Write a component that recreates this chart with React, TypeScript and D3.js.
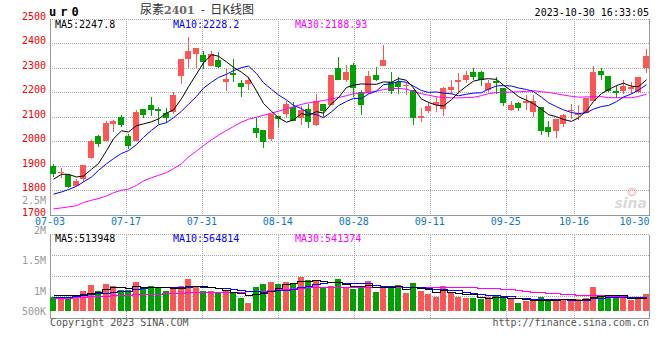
import React from "react";
import * as d3 from "d3";

// ---- data -------------------------------------------------------------
const dates = [
  "07-03","07-04","07-05","07-06","07-07","07-10","07-11","07-12","07-13","07-14",
  "07-17","07-18","07-19","07-20","07-21","07-24","07-25","07-26","07-27","07-28",
  "07-31","08-01","08-02","08-03","08-04","08-07","08-08","08-09","08-10","08-11",
  "08-14","08-15","08-16","08-17","08-18","08-21","08-22","08-23","08-24","08-25",
  "08-28","08-29","08-30","08-31","09-01","09-04","09-05","09-06","09-07","09-08",
  "09-11","09-12","09-13","09-14","09-15","09-18","09-19","09-20","09-21","09-22",
  "09-25","09-26","09-27","09-28","10-09","10-10","10-11","10-12","10-13","10-16",
  "10-17","10-18","10-19","10-20","10-23","10-24","10-25","10-26","10-27","10-30",
];
const opens = [
  1897,1868,1863,1816,1844,1932,2019,2000,2068,2099,
  2019,2000,2129,2145,2130,2114,2118,2264,2336,2355,
  2353,2305,2332,2240,2278,2236,2233,2053,2043,2007,
  2104,2111,2138,2095,2131,2064,2152,2145,2298,2247,
  2312,2199,2195,2271,2308,2240,2240,2228,2209,2094,
  2121,2145,2129,2209,2240,2249,2283,2283,2209,2243,
  2216,2125,2154,2154,2118,2138,2059,2040,2070,2121,
  2108,2115,2163,2287,2267,2203,2206,2213,2199,2298,
];
const highs = [
  1907,1890,1864,1846,1901,2003,2023,2081,2087,2108,
  2027,2125,2129,2178,2137,2135,2202,2336,2423,2381,
  2369,2366,2365,2294,2335,2251,2260,2094,2043,2111,
  2104,2165,2159,2141,2152,2190,2152,2271,2342,2312,
  2319,2209,2287,2304,2393,2283,2260,2240,2209,2135,
  2159,2179,2220,2247,2277,2287,2297,2287,2249,2260,
  2216,2165,2159,2186,2186,2138,2081,2091,2111,2152,
  2145,2176,2308,2298,2267,2226,2251,2240,2263,2376,
];
const lows = [
  1853,1849,1810,1815,1833,1926,1975,1999,2036,2057,
  1968,1999,2095,2104,2070,2074,2111,2233,2298,2298,
  2294,2305,2298,2206,2240,2179,2210,2012,1973,2002,
  2057,2095,2080,2064,2053,2063,2100,2145,2251,2240,
  2179,2108,2192,2244,2305,2192,2192,2186,2066,2076,
  2114,2118,2104,2192,2192,2236,2247,2224,2199,2192,
  2142,2121,2122,2125,2100,2023,2016,2012,2057,2091,
  2084,2114,2163,2251,2199,2175,2192,2192,2197,2277,
];
const closes = [
  1864,1872,1812,1836,1901,2002,1989,2072,2081,2064,
  1978,2118,2108,2125,2122,2095,2186,2336,2369,2381,
  2321,2355,2304,2253,2271,2220,2247,2032,1996,2111,
  2091,2152,2080,2125,2077,2165,2121,2271,2251,2283,
  2215,2145,2264,2251,2332,2206,2220,2230,2094,2104,
  2141,2161,2215,2222,2251,2271,2263,2251,2236,2236,
  2154,2145,2134,2163,2165,2040,2036,2091,2108,2125,
  2114,2176,2283,2270,2206,2195,2226,2220,2263,2346,
];
const volumes = [
  559000,559000,559000,624000,793000,1014000,780000,1053000,975000,819000,
  819000,1131000,936000,975000,910000,780000,884000,975000,1248000,923000,
  780000,780000,754000,793000,689000,520000,325000,936000,1053000,1131000,
  1053000,1131000,1105000,1339000,1209000,1209000,923000,975000,1248000,923000,
  858000,949000,1170000,741000,910000,975000,1014000,702000,1092000,780000,
  676000,546000,975000,715000,546000,507000,520000,455000,546000,624000,
  494000,494000,325000,390000,390000,546000,416000,468000,468000,390000,
  468000,520000,936000,559000,559000,494000,520000,429000,468000,676000,
];
// moving-average values for the first bars (window reaches before 07-03)
const ma5Lead = [1844, 1864, 1864, 1853];
const ma10Lead = [1783, 1792, 1802, 1815, 1833, 1853, 1880, 1907, 1928];
const ma30Lead = [
  1723,1727,1731,1736,1749,1758,1765,1776,1789,1799,
  1804,1819,1837,1850,1860,1871,1887,1907,1935,1959,
  1981,2005,2024,2043,2059,2077,2089,2097,2105,
];
const volMa5Lead = [624000, 624000, 624000, 611000];
const volMa10Lead = [559000, 559000, 559000, 585000, 650000, 663000, 689000, 715000, 728000];
const volMa30Lead = [
  494000,494000,520000,533000,559000,572000,585000,598000,611000,624000,
  637000,650000,650000,663000,676000,689000,702000,715000,728000,728000,
  728000,728000,728000,728000,741000,754000,767000,780000,793000,
];
const priceTicks = [1700, 1800, 1900, 2000, 2100, 2200, 2300, 2400, 2500];
const volTickLabels = ["2.5M", "2M", "1.5M", "1M", "500K"];
const volTickValues = [2500000, 2000000, 1500000, 1000000, 500000];
const dateTicks = ["07-03", "07-17", "07-31", "08-14", "08-28", "09-11", "09-25", "10-16", "10-30"];
const titleName = "尿素";
const titleCode = "2401";
const titleRest = "-  日K线图";
const symbol = "ur0";
const timestamp = "2023-10-30 16:33:05";
const priceHeader = ["MA5:2247.8", "MA10:2228.2", "MA30:2188.93"];
const volHeader = ["MA5:513948", "MA10:564814", "MA30:541374"];

// ---- helpers ----------------------------------------------------------
function movingAvg(vals: number[], n: number, lead: number[]) {
  return vals.map((_, i) => (i < n - 1 ? lead[i] : (d3.mean(vals.slice(i - n + 1, i + 1)) as number)));
}

const W = 660, H = 360;
const L = 50, R = 650;
const pTop = 18.5, pBot = 214.5;
const vTop = 234.5, vBot = 318.5, vBase = 311;

const RED = "#ff5555";
const GREEN = "#00a000";
const GRID = "#aaaaaa";
const BORDER = "#999999";
const MONO = "'DejaVu Sans Mono', monospace";
const CJK = "'Noto Sans CJK SC', sans-serif";

export default function App() {
  const n = dates.length;
  const band = d3.scaleBand<string>().domain(dates).range([L, R]).padding(0);
  const gridX = d3.scaleLinear().domain([0, n - 1]).range([L, R]);
  const yP = d3.scaleLinear().domain([1700, 2500]).range([pBot, pTop]);
  const yV = d3.scaleLinear().domain([0, 1000000]).range([vBase, vBase - 1000000 / 39000]);
  const yVLabel = d3.scaleLinear().domain([1000000, 2500000]).range([291, 200]);

  const bx = (i: number) => Math.round(band(dates[i]) as number);
  const cx = (i: number) => bx(i) + 3;

  const ma5 = movingAvg(closes, 5, ma5Lead);
  const ma10 = movingAvg(closes, 10, ma10Lead);
  const ma30 = movingAvg(closes, 30, ma30Lead);
  const vma5 = movingAvg(volumes, 5, volMa5Lead);
  const vma10 = movingAvg(volumes, 10, volMa10Lead);
  const vma30 = movingAvg(volumes, 30, volMa30Lead);

  const priceLine = d3.line<number>().x((_, i) => cx(i) + 0.5).y((v) => yP(v));
  const volLine = d3.line<number>().x((_, i) => cx(i) + 0.5).y((v) => Math.round(yV(v)) + 0.5).curve(d3.curveStep);

  const tickIdx = dateTicks.map((t) => dates.indexOf(t));
  const volGridYs = [1, 2, 3].map((k) => Math.round(vTop + 20.5 * k) + 0.5);

  return (
    <svg width={W} height={H} style={{ position: "absolute", left: 0, top: 0, background: "#fff" }}>
      <rect x={0} y={0} width={W} height={H} fill="#fff" />
      {/* header */}
      <text x={49} y={15.7} fontFamily={MONO} fontWeight="bold" fontSize={12} letterSpacing={4} fill="#000">{symbol}</text>
      <text x={140} y={14} fontSize={12} fill="#333" style={{ whiteSpace: "pre" }}>
        <tspan fontFamily={CJK}>{titleName}</tspan>
        <tspan fontFamily="'DejaVu Serif', serif" fontWeight="bold" fontSize={11} fill="#666">{titleCode}</tspan>
        <tspan fontFamily={CJK} dx={6}>{titleRest}</tspan>
      </text>
      <text x={649} y={15.6} fontFamily={MONO} fontSize={10} textAnchor="end" fill="#000">{timestamp}</text>

      {/* price grid */}
      <g shapeRendering="crispEdges">
        {priceTicks.map((p) => (
          <line key={p} x1={L} x2={R} y1={Math.round(yP(p)) + 0.5} y2={Math.round(yP(p)) + 0.5}
            stroke={p === 1700 ? BORDER : GRID} strokeDasharray={p === 1700 ? undefined : "1 1"} />
        ))}
        {tickIdx.slice(1, -1).map((i) => (
          <g key={i}>
            <line x1={Math.round(gridX(i)) + 0.5} x2={Math.round(gridX(i)) + 0.5} y1={pTop} y2={pBot} stroke={GRID} strokeDasharray="1 1" />
            <line x1={Math.round(gridX(i)) + 0.5} x2={Math.round(gridX(i)) + 0.5} y1={vTop} y2={vBot} stroke={GRID} strokeDasharray="1 1" />
          </g>
        ))}
        {volGridYs.map((y) => (
          <line key={y} x1={L} x2={R} y1={y} y2={y} stroke={GRID} strokeDasharray="1 1" />
        ))}
        <line x1={L} x2={R} y1={vTop} y2={vTop} stroke={GRID} strokeDasharray="1 1" />
        <line x1={L} x2={R} y1={vBot} y2={vBot} stroke={BORDER} />
        <line x1={L + 0.5} x2={L + 0.5} y1={pTop} y2={pBot} stroke={BORDER} />
        <line x1={R - 0.5} x2={R - 0.5} y1={pTop} y2={pBot} stroke={BORDER} />
        <line x1={L + 0.5} x2={L + 0.5} y1={vTop} y2={vBot} stroke={BORDER} />
        <line x1={R - 0.5} x2={R - 0.5} y1={vTop} y2={vBot} stroke={BORDER} />
      </g>

      {/* watermark */}
      <g opacity={0.55}>
        <circle cx={632} cy={192} r={3.5} fill="none" stroke="#f2a0a0" strokeWidth={2} />
        <text x={647} y={208} textAnchor="end" fontFamily="'DejaVu Sans', sans-serif" fontStyle="italic" fontWeight="bold" fontSize={14} fill="#bbbbbb">sina</text>
      </g>

      {/* price axis labels */}
      {priceTicks.map((p) => (
        <text key={p} x={46} y={yP(p) + 1} textAnchor="end" fontFamily={MONO} fontSize={10} fill="#ee0000">{p}</text>
      ))}
      {/* volume axis labels */}
      {volTickLabels.map((lab, k) => (
        <text key={lab} x={46} y={Math.min(yVLabel(volTickValues[k]), 311) + 3.6} textAnchor="end" fontFamily={MONO} fontSize={10} fill="#999999">{lab}</text>
      ))}
      {/* date labels */}
      {tickIdx.map((i, k) => (
        <text key={i} x={k === tickIdx.length - 1 ? 649.5 : gridX(i)} y={225.3}
          textAnchor={k === tickIdx.length - 1 ? "end" : "middle"} fontFamily={MONO} fontSize={10} fill="#0a78c8">{dates[i]}</text>
      ))}

      {/* candles */}
      <g shapeRendering="crispEdges">
        {dates.map((d, i) => {
          const up = closes[i] >= opens[i];
          const c = up ? RED : GREEN;
          const top = Math.round(yP(Math.max(opens[i], closes[i])));
          const bot = Math.round(yP(Math.min(opens[i], closes[i])));
          return (
            <g key={d}>
              <rect x={cx(i)} y={Math.round(yP(highs[i]))} width={1} height={Math.max(1, Math.round(yP(lows[i])) - Math.round(yP(highs[i])))} fill={c} />
              <rect x={bx(i)} y={top} width={6} height={Math.max(1, bot - top)} fill={c} />
            </g>
          );
        })}
      </g>

      {/* price MAs */}
      <path d={priceLine(ma30) as string} fill="none" stroke="#ff00ff" strokeWidth={1} />
      <path d={priceLine(ma10) as string} fill="none" stroke="#0000ff" strokeWidth={1} />
      <path d={priceLine(ma5) as string} fill="none" stroke="#000000" strokeWidth={1} />

      {/* volume bars */}
      <g shapeRendering="crispEdges">
        {dates.map((d, i) => {
          const up = closes[i] >= opens[i];
          const y = Math.round(yV(volumes[i]));
          return <rect key={d} x={bx(i)} y={y} width={6} height={vBase - y} fill={up ? RED : GREEN} />;
        })}
      </g>
      <g shapeRendering="crispEdges">
        <path d={volLine(vma30) as string} fill="none" stroke="#ff00ff" strokeWidth={1} />
        <path d={volLine(vma10) as string} fill="none" stroke="#0000ff" strokeWidth={1} />
        <path d={volLine(vma5) as string} fill="none" stroke="#000000" strokeWidth={1} />
      </g>

      {/* MA headers */}
      {priceHeader.map((t, k) => (
        <text key={t} x={[55, 173, 295][k]} y={27.5} fontFamily={MONO} fontSize={10} fill={["#000000", "#0000ff", "#ff00ff"][k]}>{t}</text>
      ))}
      {volHeader.map((t, k) => (
        <text key={t} x={[55, 173, 295][k]} y={241.9} fontFamily={MONO} fontSize={10} fill={["#000000", "#0000ff", "#ff00ff"][k]}>{t}</text>
      ))}

      {/* footer */}
      <text x={50} y={326.3} fontFamily={MONO} fontSize={10} fill="#555555">Copyright 2023 SINA.COM</text>
      <text x={649} y={326.3} textAnchor="end" fontFamily={MONO} fontSize={10} fill="#555555">http://finance.sina.com.cn</text>
    </svg>
  );
}
